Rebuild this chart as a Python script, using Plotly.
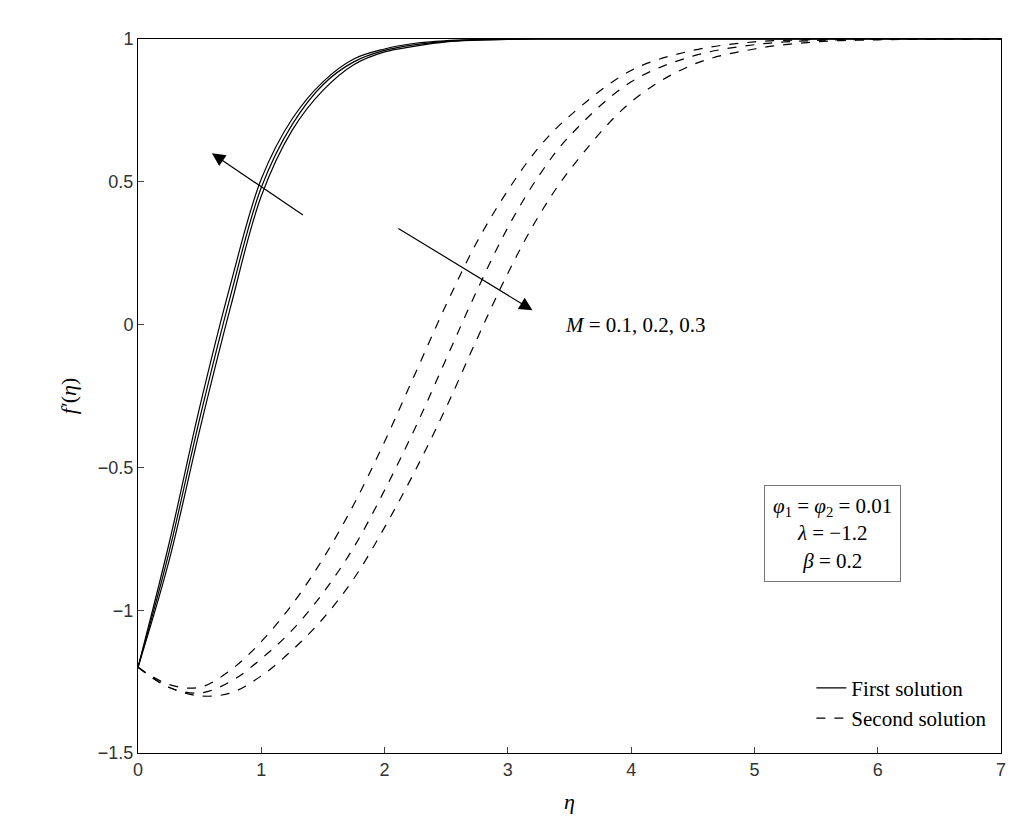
import plotly.graph_objects as go

eta = [0, 0.25, 0.5, 0.75, 1.0, 1.25, 1.5, 1.75, 2.0, 2.25, 2.5, 2.75, 3.0,
       3.25, 3.5, 4.0, 4.5, 5.0, 5.5, 6.0, 6.5, 7.0]

first_m1 = [-1.2, -0.77, -0.29, 0.14, 0.51, 0.72, 0.85, 0.93, 0.965, 0.985, 0.994, 0.998, 1.0,
            1.0, 1.0, 1.0, 1.0, 1.0, 1.0, 1.0, 1.0, 1.0]
first_m2 = [-1.2, -0.80, -0.33, 0.10, 0.48, 0.70, 0.84, 0.92, 0.96, 0.98, 0.992, 0.997, 0.999,
            1.0, 1.0, 1.0, 1.0, 1.0, 1.0, 1.0, 1.0, 1.0]
first_m3 = [-1.2, -0.83, -0.37, 0.06, 0.45, 0.68, 0.82, 0.91, 0.955, 0.975, 0.99, 0.996, 0.999,
            1.0, 1.0, 1.0, 1.0, 1.0, 1.0, 1.0, 1.0, 1.0]

second_m1 = [-1.2, -1.26, -1.27, -1.21, -1.11, -0.98, -0.82, -0.63, -0.41, -0.17, 0.07, 0.29, 0.47,
             0.62, 0.73, 0.89, 0.96, 0.99, 0.998, 1.0, 1.0, 1.0]
second_m2 = [-1.2, -1.27, -1.29, -1.25, -1.17, -1.07, -0.94, -0.78, -0.58, -0.36, -0.12, 0.12, 0.34,
             0.52, 0.66, 0.85, 0.94, 0.98, 0.995, 0.999, 1.0, 1.0]
second_m3 = [-1.2, -1.27, -1.30, -1.29, -1.23, -1.14, -1.03, -0.89, -0.71, -0.51, -0.29, -0.05, 0.18,
             0.38, 0.54, 0.78, 0.91, 0.965, 0.99, 0.997, 1.0, 1.0]

serif = "Liberation Serif"
fig = go.Figure()
for i, ys in enumerate([first_m1, first_m2, first_m3]):
    fig.add_trace(go.Scatter(x=eta, y=ys, mode="lines", line=dict(color="black", width=1.2, shape="spline"),
                             name="First solution", showlegend=(i == 0)))
for i, ys in enumerate([second_m1, second_m2, second_m3]):
    fig.add_trace(go.Scatter(x=eta, y=ys, mode="lines",
                             line=dict(color="black", width=1.2, dash="dash", shape="spline"),
                             name="Second solution", showlegend=(i == 0)))

axis = dict(showline=True, linecolor="black", mirror=True, ticks="inside", ticklen=6,
            showgrid=False, zeroline=False, tickfont=dict(family="Liberation Sans", size=18, color="#333"))
fig.update_xaxes(range=[0, 7], dtick=1,
                 title=dict(text="<i>η</i>", font=dict(family=serif, size=22, color="black")), **axis)
fig.update_yaxes(range=[-1.5, 1], dtick=0.5,
                 title=dict(text="<i>f′</i>(<i>η</i>)", font=dict(family=serif, size=22, color="black")), **axis)

fig.add_annotation(x=0.6, y=0.6, ax=1.35, ay=0.38, axref="x", ayref="y", xref="x", yref="y",
                   text="", showarrow=True, arrowhead=2, arrowsize=2.2, arrowwidth=1.2, arrowcolor="black")
fig.add_annotation(x=3.2, y=0.05, ax=2.1, ay=0.34, axref="x", ayref="y", xref="x", yref="y",
                   text="", showarrow=True, arrowhead=2, arrowsize=2.2, arrowwidth=1.2, arrowcolor="black")
fig.add_annotation(x=3.45, y=0, xanchor="left", text="<i>M</i> = 0.1, 0.2, 0.3", showarrow=False,
                   font=dict(family=serif, size=21, color="black"))
fig.add_annotation(x=5.63, y=-0.73,
                   text="<i>φ</i><sub>1</sub> = <i>φ</i><sub>2</sub> = 0.01<br><i>λ</i> = −1.2<br><i>β</i> = 0.2",
                   showarrow=False, bordercolor="#777", borderwidth=1, borderpad=8, bgcolor="white",
                   font=dict(family=serif, size=21, color="black"))

fig.update_layout(
    width=1018, height=816, plot_bgcolor="white", paper_bgcolor="white",
    margin=dict(l=130, r=25, t=31, b=71),
    legend=dict(x=0.99, y=0.02, xanchor="right", yanchor="bottom", bgcolor="rgba(0,0,0,0)",
                font=dict(family=serif, size=21, color="black")),
)
fig.write_html("out.html")
